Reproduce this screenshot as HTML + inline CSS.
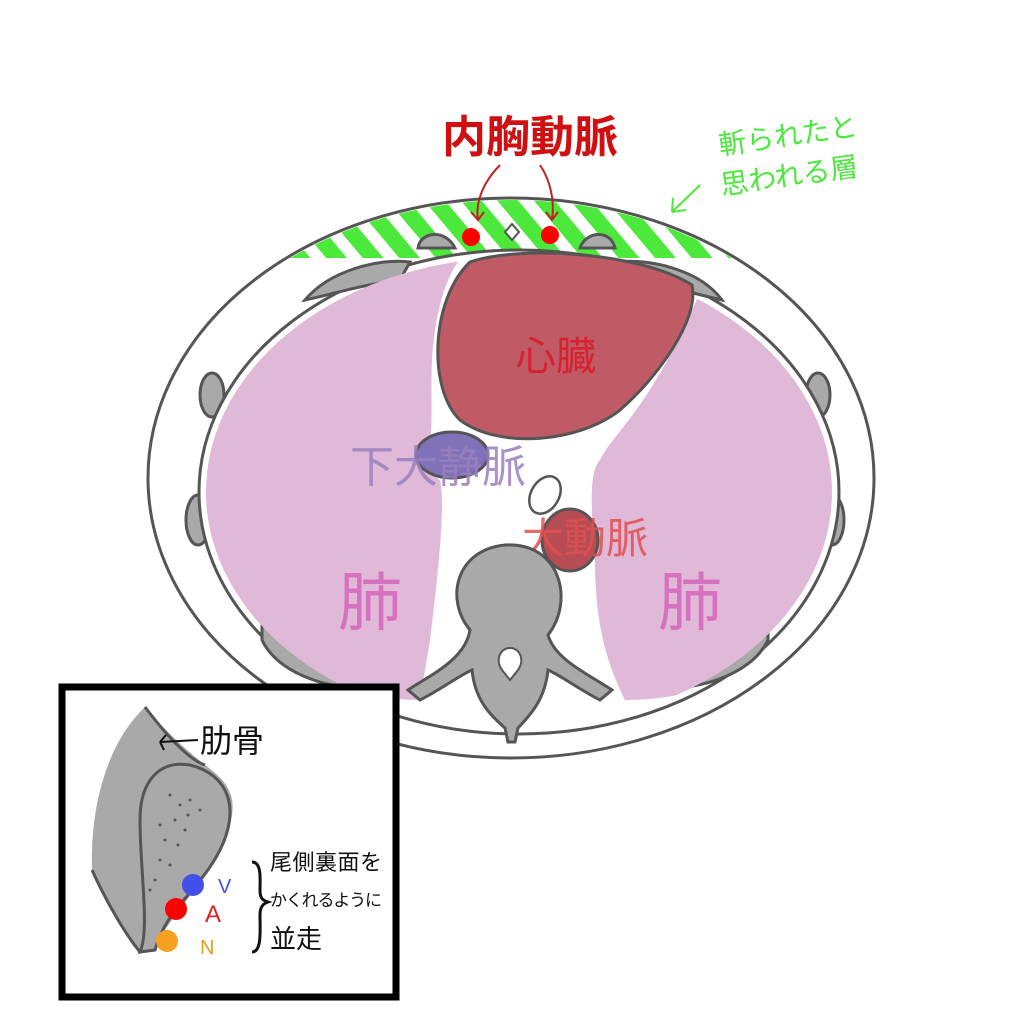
<!DOCTYPE html>
<html><head><meta charset="utf-8"><style>
html,body{margin:0;padding:0;background:#fff;width:1024px;height:1024px;overflow:hidden}
svg text{font-family:"Liberation Sans","Noto Sans CJK JP",sans-serif}
</style></head><body>
<svg width="1024" height="1024" viewBox="0 0 1024 1024" xmlns="http://www.w3.org/2000/svg">
<defs>
<pattern id="st" width="28" height="28" patternUnits="userSpaceOnUse" patternTransform="rotate(-40)">
<rect width="28" height="28" fill="#fff"/><rect width="16" height="28" fill="#4de83c"/></pattern>
<clipPath id="band"><rect x="0" y="190" width="1024" height="68"/></clipPath>
<clipPath id="inner"><ellipse cx="519" cy="492" rx="313" ry="235"/></clipPath>
</defs>
<ellipse cx="511" cy="478" rx="363" ry="280" fill="#fff" stroke="#555" stroke-width="3"/>
<ellipse cx="511" cy="478" rx="361" ry="278" fill="url(#st)" clip-path="url(#band)"/>
<g fill="#a9a9a9" stroke="#555" stroke-width="3">
<path d="M418,248 C420,232 445,228 455,248Z"/>
<path d="M580,248 C585,232 610,228 615,248Z"/>
<ellipse cx="212" cy="395" rx="12" ry="22"/>
<ellipse cx="818" cy="395" rx="12" ry="22"/>
<ellipse cx="198" cy="520" rx="12" ry="25"/>
<ellipse cx="832" cy="520" rx="12" ry="25"/>
</g>
<path d="M505,232 L512,224 L519,232 L512,240Z" fill="#fff" stroke="#555" stroke-width="2"/>
<ellipse cx="519" cy="492" rx="320" ry="242" fill="#fff" stroke="#555" stroke-width="3"/>
<g fill="#a9a9a9" stroke="#555" stroke-width="3">
<path d="M305,300 C330,270 380,258 410,262 L400,280 C360,285 330,295 305,300Z"/>
<path d="M722,300 C700,270 650,258 615,262 L625,280 C665,285 700,295 722,300Z"/>
<path d="M262,620 C280,610 330,640 380,688 C340,692 280,678 262,640Z"/>
<path d="M768,620 C750,610 700,640 650,688 C690,692 750,678 768,640Z"/>
</g>
<g clip-path="url(#inner)">
<path d="M465,252 C400,250 150,250 150,450 C150,600 300,700 420,700 L430,640 C440,560 445,500 440,480 L425,470 C435,440 430,400 432,360 C436,300 450,270 465,252Z" fill="#e0b8d8"/>
<path d="M700,292 C800,300 880,380 880,480 C880,600 760,700 625,700 C605,660 595,620 595,560 C590,500 590,470 600,460 C615,430 650,410 700,292Z" fill="#e0b8d8"/>
</g>
<path d="M470,262 C520,245 640,252 692,285 C700,320 655,380 620,410 C580,442 500,450 460,420 C428,390 430,300 470,262Z" fill="#c05a64" stroke="#555" stroke-width="3"/>
<text x="556" y="370" font-size="40" fill="#d82030" text-anchor="middle">心臓</text>
<ellipse cx="452" cy="455" rx="36" ry="23" fill="#7f72b8" stroke="#555" stroke-width="3"/>
<text x="438" y="482" font-size="44" fill="#9a80c0" text-anchor="middle" opacity="0.85">下大静脈</text>
<ellipse cx="545" cy="495" rx="14" ry="20" transform="rotate(30 545 495)" fill="#fff" stroke="#555" stroke-width="2.5"/>
<ellipse cx="570" cy="540" rx="28" ry="31" fill="#b84c54" stroke="#555" stroke-width="3"/>
<text x="585" y="553" font-size="42" fill="#e05050" text-anchor="middle" opacity="0.85">大動脈</text>
<path d="M470,630 C445,600 455,550 505,545 C560,542 575,600 548,635 C555,660 590,675 612,690 L600,700 C580,690 560,675 548,670 C545,700 530,715 518,728 L515,742 L508,742 L505,728 C490,715 475,700 472,670 C460,675 440,690 420,700 L408,690 C430,675 465,660 470,630Z" fill="#a9a9a9" stroke="#555" stroke-width="3"/>
<path d="M510,648 C520,648 525,660 518,670 L510,680 L502,670 C495,660 500,648 510,648Z" fill="#fff" stroke="#555" stroke-width="2"/>
<text x="370" y="625" font-size="64" fill="#d870c0" text-anchor="middle">肺</text>
<text x="690" y="625" font-size="64" fill="#d870c0" text-anchor="middle">肺</text>
<text x="530" y="152" font-size="44" font-weight="bold" fill="#d01010" text-anchor="middle">内胸動脈</text>
<path d="M500,165 C485,180 475,200 478,220 M471,212 L478,220 L484,212" fill="none" stroke="#c02020" stroke-width="2"/>
<path d="M540,165 C550,180 555,200 552,220 M546,212 L552,220 L558,212" fill="none" stroke="#c02020" stroke-width="2"/>
<circle cx="471" cy="237" r="9" fill="#f00"/>
<circle cx="550" cy="235" r="9" fill="#f00"/>
<text x="720" y="155" font-size="28" fill="#4de83c" transform="rotate(-8 720 155)">斬られたと</text>
<text x="722" y="195" font-size="28" fill="#4de83c" transform="rotate(-8 722 195)">思われる層</text>
<path d="M700,185 L672,212 M672,212 L673,198 M672,212 L686,210" stroke="#4de83c" stroke-width="2" fill="none"/>
<rect x="62" y="687" width="334" height="310" fill="#fff" stroke="#000" stroke-width="7"/>
<path d="M145,707 C110,740 90,800 92,870 C110,910 130,940 140,952 L155,950 C160,930 190,900 215,860 C240,810 240,790 205,765 C180,745 160,725 145,707Z" fill="#a9a9a9"/>
<path d="M145,707 C170,740 190,760 205,765 M92,870 C110,910 130,940 140,952" fill="none" stroke="#555" stroke-width="3"/>
<path d="M140,952 C150,930 140,870 140,820 C140,780 160,760 190,765 C230,775 240,810 220,850 C200,890 165,910 155,950Z" fill="#a9a9a9" stroke="#555" stroke-width="3"/>
<g fill="#555"><circle cx="170" cy="795" r="1.5"/><circle cx="180" cy="805" r="1.5"/><circle cx="190" cy="800" r="1.5"/><circle cx="175" cy="820" r="1.5"/><circle cx="185" cy="830" r="1.5"/><circle cx="165" cy="840" r="1.5"/><circle cx="178" cy="845" r="1.5"/><circle cx="160" cy="860" r="1.5"/><circle cx="170" cy="865" r="1.5"/><circle cx="155" cy="880" r="1.5"/><circle cx="200" cy="810" r="1.5"/><circle cx="160" cy="825" r="1.5"/><circle cx="150" cy="890" r="1.5"/><circle cx="188" cy="815" r="1.5"/></g>
<path d="M198,740 L160,742 M160,742 L166,735 M160,742 L164,750" stroke="#111" stroke-width="2" fill="none"/>
<text x="200" y="752" font-size="32" fill="#111">肋骨</text>
<circle cx="193" cy="885" r="11" fill="#4050e8"/>
<circle cx="176" cy="909" r="11" fill="#f00"/>
<circle cx="167" cy="941" r="11" fill="#f5a020"/>
<text x="218" y="893" font-size="20" fill="#4050e8">V</text>
<text x="205" y="922" font-size="24" fill="#e02020">A</text>
<text x="200" y="954" font-size="20" fill="#e0a020">N</text>
<path d="M252,862 C262,862 260,880 260,890 C260,898 262,900 268,902 C262,904 260,908 260,915 C260,930 262,952 252,952" fill="none" stroke="#111" stroke-width="3"/>
<text x="270" y="870" font-size="22" fill="#111" textLength="112">尾側裏面を</text>
<text x="270" y="906" font-size="17" fill="#111" textLength="112">かくれるように</text>
<text x="270" y="948" font-size="26" fill="#111">並走</text>
</svg>
</body></html>
